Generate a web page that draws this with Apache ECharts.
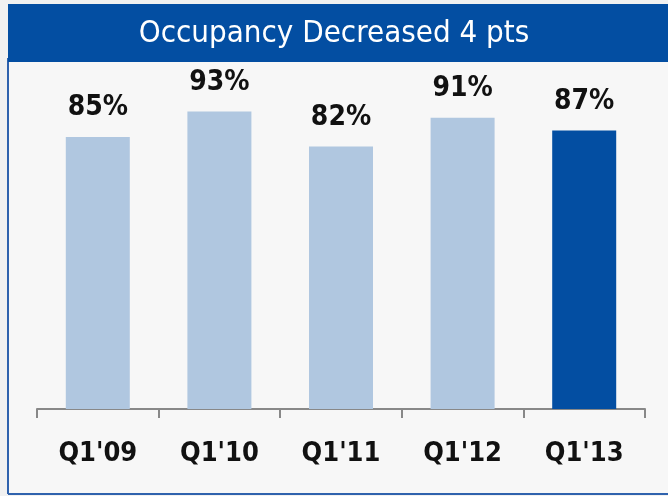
<!doctype html>
<html lang="en">
<head>
<meta charset="UTF-8">
<title>Occupancy</title>
<script src="https://cdn.jsdelivr.net/npm/echarts@6/dist/echarts.min.js"></script>
<style>
  html, body { margin: 0; padding: 0; background: #f1f1f1; }
  #main { width: 668px; height: 496px; }
</style>
</head>
<body>
<div id="main"></div>
<script>
// data
var quarters = ["Q1'09", "Q1'10", "Q1'11", "Q1'12", "Q1'13"];
var occupancy = [85, 93, 82, 91, 87];
var titleText = 'Occupancy Decreased 4 pts';

var lightBlue = '#b0c7e0';
var darkBlue = '#034ea2';
var font = 'DejaVu Sans Condensed';

var chart = echarts.init(document.getElementById('main'));

var barData = occupancy.map(function (v, i) {
    return {
        value: v,
        itemStyle: { color: i === occupancy.length - 1 ? darkBlue : lightBlue }
    };
});

var option = {
    backgroundColor: '#f1f1f1',
    animation: false,
    graphic: [
        // panel
        { type: 'rect', z: -10, shape: { x: 8, y: 4, width: 660, height: 491 },
          style: { fill: '#f7f7f7' } },
        // frame left / bottom
        { type: 'line', shape: { x1: 8, y1: 58, x2: 8, y2: 494 },
          style: { stroke: '#2f62ad', lineWidth: 2 } },
        { type: 'line', shape: { x1: 8, y1: 494, x2: 668, y2: 494 },
          style: { stroke: '#2f62ad', lineWidth: 2 } },
        // title bar
        { type: 'rect', shape: { x: 8, y: 4, width: 660, height: 58 },
          style: { fill: darkBlue } },
        { type: 'text', left: 'center', top: 18,
          style: { text: titleText, fill: '#fff', font: '31px "DejaVu Sans Condensed"' } }
    ],
    grid: { left: 37, right: 23, top: 89, bottom: 87 },
    xAxis: {
        type: 'category',
        data: quarters,
        axisLine: { lineStyle: { color: '#888', width: 2 } },
        axisTick: { show: true, length: 9, lineStyle: { color: '#888', width: 2 } },
        axisLabel: {
            color: '#111', fontFamily: font, fontWeight: 'bold', fontSize: 27, margin: 31
        }
    },
    yAxis: { type: 'value', min: 0, max: 100, show: false },
    series: [{
        type: 'bar',
        barWidth: 64,
        data: barData,
        label: {
            show: true,
            position: 'top',
            distance: 15,
            formatter: '{c}%',
            color: '#111',
            fontFamily: font,
            fontWeight: 'bold',
            fontSize: 28
        }
    }]
};

chart.setOption(option);
</script>
</body>
</html>
